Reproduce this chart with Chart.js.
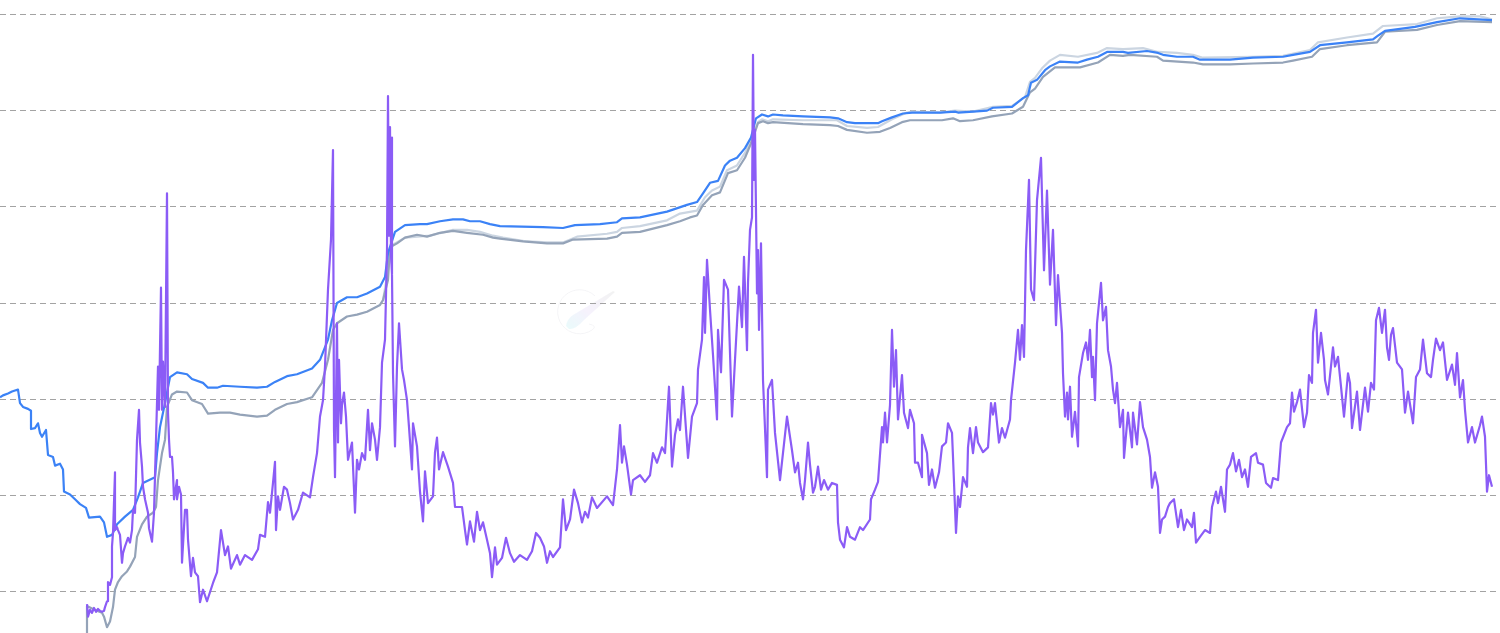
<!DOCTYPE html>
<html>
<head>
<meta charset="utf-8">
<title>Chart</title>
<script src="https://cdn.jsdelivr.net/npm/chart.js@4"></script>
<style>
    html, body { margin: 0; padding: 0; background: #fff; overflow: hidden; }
    #wrap { position: relative; width: 1500px; height: 633px; }
    #logo { position: absolute; left: 555px; top: 286px; opacity: 0.55; }
    #myChart { position: absolute; left: 0; top: 0; }
</style>
</head>
<body>
<div id="wrap">
    <svg id="logo" width="64" height="56" viewBox="0 0 64 56">
        <defs>
            <linearGradient id="tail" x1="0" y1="1" x2="1" y2="0">
                <stop offset="0" stop-color="#d8f8f8"/>
                <stop offset="0.45" stop-color="#efe8fb"/>
                <stop offset="1" stop-color="#e8e8e8"/>
            </linearGradient>
        </defs>
        <path d="M40 10 A22 22 0 1 0 37 44 Q43 40 34 38" fill="none" stroke="#ececf0" stroke-width="1"/>
        <path d="M11 40 Q12 33 18 29 L58 5 L60 6 L29 34 Q20 44 14 43 Z" fill="url(#tail)"/>
    </svg>
    <canvas id="myChart" width="1500" height="633"></canvas>
</div>
<script>
// periods are sample numbers along the x axis, values are in grid steps above the lowest gridline
const purplePeriods = [
    87, 88, 90, 92, 94, 96, 98, 100, 102, 104,
    105, 107, 108, 110, 112, 112, 113, 115, 115, 117,
    118, 120, 122, 123, 125, 128, 130, 132, 133, 135,
    137, 139, 140, 142, 143, 145, 148, 149, 152, 154,
    156, 158, 159, 161, 162, 163, 165, 167, 168, 169,
    170, 172, 173, 174, 177, 177, 179, 181, 182, 185,
    187, 188, 191, 193, 195, 198, 200, 203, 207, 213,
    217, 221, 225, 228, 231, 237, 240, 245, 252, 258,
    260, 265, 268, 270, 273, 275, 276, 278, 280, 284,
    287, 290, 293, 298, 303, 310, 313, 317, 320, 323,
    325, 328, 331, 333, 334, 335, 337, 338, 339, 341,
    342, 344, 346, 348, 352, 355, 357, 359, 362, 365,
    368, 370, 372, 375, 377, 380, 382, 385, 387, 388,
    389, 390, 391, 392, 392, 393, 395, 397, 399, 402, 404, 407,
    409, 412, 413, 417, 420, 423, 425, 428, 433, 435,
    437, 439, 443, 448, 453, 455, 462, 465, 467, 470,
    474, 477, 480, 483, 487, 490, 492, 495, 497, 502,
    506, 510, 514, 520, 527, 532, 536, 540, 544, 547,
    550, 553, 560, 563, 566, 570, 574, 578, 582, 585,
    588, 592, 597, 607, 613, 617, 620, 622, 624, 627,
    631, 633, 640, 645, 650, 653, 657, 662, 665, 669,
    672, 675, 678, 680, 683, 688, 692, 697, 698, 702,
    704, 705, 707, 710, 713, 717, 718, 721, 724, 728,
    732, 735, 739, 742, 744, 747, 748, 750, 752, 753,
    754, 755, 757, 758, 759, 761, 763, 767, 768, 772,
    775, 780, 787, 792, 795, 798, 800, 803, 805, 808,
    810, 813, 815, 818, 821, 824, 828, 832, 837, 838,
    840, 844, 847, 850, 855, 860, 863, 870, 871, 875,
    878, 882, 883, 885, 887, 890, 892, 894, 896, 898,
    902, 904, 908, 910, 914, 915, 918, 922, 922, 927,
    929, 932, 935, 939, 942, 946, 948, 952, 953, 956,
    958, 960, 963, 967, 968, 970, 973, 976, 978, 983,
    988, 991, 993, 995, 999, 1002, 1005, 1010, 1011, 1015,
    1018, 1020, 1022, 1024, 1026, 1029, 1031, 1034, 1037, 1041,
    1044, 1047, 1050, 1053, 1056, 1058, 1062, 1063, 1065, 1067,
    1068, 1070, 1072, 1075, 1078, 1079, 1083, 1086, 1088, 1090,
    1092, 1093, 1095, 1097, 1101, 1103, 1106, 1108, 1111, 1113,
    1115, 1117, 1120, 1123, 1124, 1128, 1132, 1133, 1137, 1140,
    1143, 1147, 1150, 1152, 1155, 1158, 1160, 1162, 1165, 1168,
    1170, 1174, 1178, 1181, 1184, 1187, 1192, 1194, 1196, 1200,
    1205, 1210, 1212, 1216, 1218, 1221, 1225, 1227, 1230, 1233,
    1236, 1239, 1242, 1245, 1248, 1251, 1256, 1258, 1263, 1266,
    1271, 1273, 1278, 1281, 1287, 1290, 1292, 1294, 1297, 1300,
    1304, 1307, 1309, 1312, 1313, 1316, 1318, 1321, 1324, 1325,
    1328, 1333, 1335, 1338, 1341, 1344, 1348, 1350, 1352, 1357,
    1360, 1365, 1368, 1371, 1374, 1376, 1379, 1382, 1385, 1387,
    1389, 1391, 1393, 1397, 1402, 1405, 1408, 1413, 1416, 1420,
    1423, 1427, 1431, 1433, 1436, 1440, 1443, 1447, 1452, 1455,
    1457, 1460, 1463, 1465, 1468, 1472, 1475, 1480, 1482, 1485,
    1487, 1489, 1492
];
const purpleValues = [
    -0.13, -0.26, -0.19, -0.22, -0.17, -0.21, -0.18, -0.20, -0.21, -0.20,
    -0.16, -0.10, 0.10, 0.07, 0.15, 0.47, 0.61, 1.24, 0.64, 0.67,
    0.64, 0.59, 0.30, 0.40, 0.47, 0.56, 0.51, 0.64, 0.85, 0.82,
    1.58, 1.89, 1.55, 1.30, 1.09, 0.96, 0.82, 0.66, 0.52, 0.82,
    1.58, 2.34, 1.89, 3.16, 1.89, 2.39, 1.92, 4.14, 1.86, 1.58,
    1.40, 1.40, 1.24, 0.96, 1.16, 0.96, 1.09, 1.01, 0.30, 0.85,
    0.85, 0.54, 0.16, 0.35, 0.20, 0.16, -0.11, 0.02, -0.10, 0.09,
    0.20, 0.64, 0.38, 0.47, 0.24, 0.38, 0.28, 0.38, 0.33, 0.44,
    0.59, 0.57, 0.93, 0.82, 1.13, 1.35, 0.64, 0.99, 0.85, 1.09,
    1.06, 0.92, 0.75, 0.85, 1.03, 0.98, 1.19, 1.44, 1.82, 1.99,
    2.34, 3.14, 3.66, 4.59, 1.68, 1.19, 2.79, 1.55, 2.41, 1.75,
    1.94, 2.07, 1.82, 1.37, 1.55, 0.82, 1.37, 1.27, 1.44, 1.37,
    1.89, 1.47, 1.75, 1.58, 1.37, 1.71, 2.38, 2.62, 3.55, 5.15,
    3.70, 4.83, 3.50, 4.72, 3.30, 2.27, 1.51, 2.34, 2.79, 2.31, 2.20, 1.99,
    1.71, 1.27, 1.75, 1.51, 1.04, 0.73, 1.25, 0.92, 0.99, 1.45,
    1.60, 1.27, 1.45, 1.30, 1.13, 0.88, 0.88, 0.64, 0.49, 0.73,
    0.52, 0.83, 0.64, 0.72, 0.54, 0.40, 0.15, 0.46, 0.28, 0.35,
    0.56, 0.40, 0.31, 0.38, 0.33, 0.42, 0.61, 0.56, 0.47, 0.30,
    0.42, 0.36, 0.46, 0.96, 0.64, 0.75, 1.06, 0.92, 0.72, 0.83,
    0.77, 0.98, 0.87, 0.99, 0.90, 1.27, 1.73, 1.34, 1.51, 1.32,
    1.01, 1.16, 1.21, 1.14, 1.21, 1.44, 1.34, 1.50, 1.44, 2.13,
    1.30, 1.63, 1.79, 1.68, 2.13, 1.39, 1.82, 1.96, 2.31, 2.62,
    3.27, 2.69, 3.45, 2.93, 2.46, 1.79, 2.72, 2.28, 3.24, 3.14,
    1.82, 2.41, 3.17, 2.75, 3.48, 2.51, 3.21, 3.76, 3.89, 5.58,
    4.28, 4.80, 3.10, 3.55, 2.72, 3.62, 2.20, 1.19, 2.10, 2.20,
    1.65, 1.16, 1.82, 1.47, 1.24, 1.34, 1.13, 0.96, 1.16, 1.55,
    1.32, 1.03, 1.09, 1.30, 1.06, 1.16, 1.06, 1.13, 1.11, 0.72,
    0.54, 0.46, 0.67, 0.57, 0.54, 0.67, 0.64, 0.75, 0.96, 1.06,
    1.14, 1.71, 1.55, 1.86, 1.55, 1.94, 2.72, 2.13, 2.51, 1.79,
    2.25, 1.86, 1.70, 1.89, 1.75, 1.34, 1.34, 1.19, 1.63, 1.44,
    1.11, 1.27, 1.08, 1.24, 1.51, 1.55, 1.75, 1.65, 1.40, 0.61,
    0.99, 0.88, 1.19, 1.09, 1.50, 1.70, 1.44, 1.71, 1.55, 1.45,
    1.50, 1.96, 1.84, 1.96, 1.55, 1.70, 1.60, 1.79, 1.99, 2.38,
    2.72, 2.41, 2.77, 2.44, 3.55, 4.28, 3.14, 3.03, 4.07, 4.51,
    3.34, 4.17, 3.19, 3.76, 2.77, 3.29, 2.69, 2.27, 1.82, 2.07,
    1.79, 2.13, 1.61, 1.87, 1.51, 2.23, 2.48, 2.59, 2.41, 2.72,
    2.23, 2.44, 1.99, 2.79, 3.21, 2.82, 2.96, 2.51, 2.34, 2.10,
    1.96, 2.17, 1.71, 1.89, 1.39, 1.86, 1.50, 1.86, 1.53, 1.97,
    1.71, 1.58, 1.40, 1.08, 1.24, 1.09, 0.61, 0.75, 0.78, 0.88,
    0.92, 0.96, 0.67, 0.85, 0.64, 0.75, 0.67, 0.82, 0.51, 0.57,
    0.64, 0.61, 0.88, 1.04, 0.92, 1.09, 0.83, 1.27, 1.32, 1.44,
    1.25, 1.37, 1.19, 1.27, 1.09, 1.40, 1.44, 1.34, 1.32, 1.13,
    1.08, 1.18, 1.16, 1.55, 1.71, 1.75, 2.07, 1.87, 1.97, 2.10,
    1.71, 1.86, 2.25, 2.17, 2.69, 2.93, 2.38, 2.69, 2.41, 2.20,
    2.05, 2.54, 2.34, 2.44, 2.13, 1.82, 2.27, 2.17, 1.70, 2.08,
    1.68, 2.12, 1.87, 2.17, 2.10, 2.82, 2.95, 2.69, 2.93, 2.54,
    2.41, 2.67, 2.74, 2.38, 2.31, 1.86, 2.08, 1.75, 2.23, 2.31,
    2.62, 2.27, 2.23, 2.41, 2.63, 2.51, 2.59, 2.20, 2.36, 2.15,
    2.48, 2.02, 2.20, 1.89, 1.55, 1.71, 1.55, 1.73, 1.82, 1.61,
    1.04, 1.21, 1.09
];

const bluePeriods = [
    0, 3, 8, 12, 15, 18, 20, 23, 28, 31, 31, 35, 38, 40, 42, 46, 48, 53, 55, 60,
    63, 64, 70, 75, 80, 86, 89, 100, 104, 107, 112, 117, 125, 133, 138, 143, 155, 157, 160, 165,
    170, 177, 187, 192, 203, 208, 217, 223, 240, 257, 267, 275, 287, 297, 312, 320, 328, 332, 337, 347,
    357, 367, 380, 385, 388, 395, 405, 420, 427, 440, 453, 463, 470, 480, 490, 500, 543, 563, 575, 600,
    617, 622, 640, 667, 687, 697, 703, 710, 718, 725, 730, 737, 745, 751, 756, 762, 768, 773, 783, 803,
    830, 838, 847, 855, 878, 882, 892, 903, 912, 940, 955, 958, 973, 987, 993, 1012, 1023, 1028, 1031, 1037,
    1045, 1050, 1060, 1078, 1087, 1098, 1107, 1123, 1128, 1147, 1158, 1163, 1177, 1193, 1200, 1230, 1253, 1283, 1293, 1310,
    1320, 1347, 1373, 1378, 1385, 1415, 1437, 1460, 1492
];
const blueValues = [
    2.02, 2.04, 2.06, 2.08, 2.09, 2.10, 1.96, 1.92, 1.90, 1.88, 1.69, 1.70, 1.75, 1.65, 1.61, 1.68, 1.42, 1.40, 1.31, 1.33,
    1.27, 1.04, 1.01, 0.96, 0.91, 0.87, 0.77, 0.78, 0.72, 0.57, 0.59, 0.70, 0.78, 0.85, 0.98, 1.13, 1.19, 1.44, 1.71, 1.96,
    2.23, 2.28, 2.26, 2.21, 2.17, 2.12, 2.12, 2.14, 2.13, 2.12, 2.13, 2.18, 2.24, 2.26, 2.32, 2.41, 2.62, 2.82, 3.00, 3.06,
    3.06, 3.10, 3.17, 3.27, 3.52, 3.74, 3.81, 3.82, 3.82, 3.85, 3.87, 3.87, 3.85, 3.85, 3.82, 3.80, 3.79, 3.78, 3.81, 3.82,
    3.84, 3.88, 3.89, 3.95, 4.02, 4.05, 4.14, 4.25, 4.27, 4.43, 4.48, 4.51, 4.61, 4.72, 4.92, 4.96, 4.94, 4.96, 4.95, 4.94,
    4.93, 4.92, 4.88, 4.87, 4.87, 4.89, 4.93, 4.97, 4.98, 4.98, 4.99, 4.98, 4.99, 5.00, 5.03, 5.04, 5.13, 5.16, 5.29, 5.32,
    5.42, 5.46, 5.51, 5.50, 5.53, 5.56, 5.61, 5.61, 5.60, 5.62, 5.60, 5.58, 5.56, 5.56, 5.53, 5.53, 5.55, 5.56, 5.58, 5.61,
    5.68, 5.71, 5.74, 5.78, 5.83, 5.87, 5.92, 5.96, 5.94
];

const slatePeriods = [
    87, 87, 95, 102, 104, 107, 110, 113, 115, 118, 122, 127, 130, 135, 137, 142, 147, 153, 156, 158,
    162, 165, 167, 172, 177, 187, 192, 202, 208, 220, 230, 240, 257, 267, 275, 287, 297, 312, 322, 328,
    333, 337, 347, 357, 367, 380, 383, 388, 390, 397, 405, 417, 427, 440, 453, 467, 483, 493, 500, 523,
    547, 563, 573, 607, 617, 622, 640, 667, 680, 690, 697, 703, 712, 720, 728, 737, 745, 751, 758, 763,
    768, 773, 803, 830, 838, 847, 867, 880, 890, 902, 910, 942, 953, 960, 973, 992, 1012, 1023, 1030, 1035,
    1043, 1055, 1080, 1098, 1110, 1123, 1130, 1157, 1163, 1193, 1203, 1230, 1253, 1283, 1293, 1312, 1320, 1347, 1377, 1385,
    1417, 1437, 1460, 1492
];
const slateValues = [
    -0.43, -0.15, -0.19, -0.22, -0.26, -0.37, -0.31, -0.16, 0.02, 0.10, 0.16, 0.21, 0.26, 0.36, 0.57, 0.70, 0.78, 0.82, 0.88, 1.16,
    1.44, 1.58, 1.92, 2.05, 2.08, 2.07, 1.99, 1.95, 1.85, 1.86, 1.86, 1.84, 1.82, 1.83, 1.89, 1.95, 1.97, 2.02, 2.17, 2.41,
    2.72, 2.79, 2.86, 2.88, 2.91, 2.98, 3.03, 3.24, 3.58, 3.62, 3.68, 3.71, 3.69, 3.73, 3.75, 3.73, 3.71, 3.68, 3.67, 3.64,
    3.62, 3.62, 3.66, 3.67, 3.69, 3.73, 3.74, 3.81, 3.85, 3.89, 3.91, 4.02, 4.12, 4.15, 4.35, 4.38, 4.51, 4.66, 4.87, 4.89,
    4.87, 4.88, 4.86, 4.85, 4.84, 4.80, 4.77, 4.78, 4.82, 4.88, 4.90, 4.90, 4.92, 4.89, 4.90, 4.94, 4.97, 5.04, 5.19, 5.23,
    5.35, 5.45, 5.45, 5.50, 5.58, 5.57, 5.58, 5.56, 5.52, 5.50, 5.48, 5.48, 5.49, 5.50, 5.52, 5.56, 5.64, 5.68, 5.71, 5.82,
    5.84, 5.89, 5.93, 5.92
];

const lightPeriods = [
    383, 388, 392, 405, 430, 453, 467, 480, 493, 503, 527, 547, 563, 577, 607, 617, 622, 640, 667, 680,
    697, 705, 712, 720, 727, 737, 745, 751, 758, 762, 768, 773, 803, 837, 847, 867, 878, 892, 907, 912,
    940, 955, 973, 993, 1012, 1025, 1030, 1035, 1042, 1050, 1060, 1078, 1097, 1107, 1123, 1143, 1158, 1177, 1193, 1203,
    1253, 1283, 1310, 1318, 1347, 1373, 1383, 1417, 1437, 1460, 1480, 1492
];
const lightValues = [
    3.03, 3.34, 3.60, 3.68, 3.70, 3.76, 3.76, 3.74, 3.70, 3.68, 3.64, 3.63, 3.63, 3.69, 3.72, 3.74, 3.78, 3.80, 3.86, 3.93,
    3.96, 4.10, 4.17, 4.21, 4.38, 4.43, 4.56, 4.69, 4.88, 4.91, 4.89, 4.91, 4.90, 4.90, 4.84, 4.82, 4.83, 4.91, 4.98, 4.99,
    4.98, 5.00, 4.99, 5.04, 5.05, 5.14, 5.30, 5.34, 5.44, 5.52, 5.58, 5.56, 5.60, 5.65, 5.64, 5.65, 5.61, 5.60, 5.58, 5.55,
    5.56, 5.57, 5.63, 5.71, 5.76, 5.80, 5.88, 5.90, 5.96, 5.98, 5.98, 5.95
];

document.addEventListener('DOMContentLoaded', function() {
    const ctx = document.getElementById('myChart').getContext('2d');

    function toPoints(periods, values) {
        return periods.map((p, i) => ({ x: p, y: values[i] }));
    }

    function lineDataset(periods, values, color, width, order) {
        return {
            data: toPoints(periods, values),
            borderColor: color,
            borderWidth: width,
            borderJoinStyle: 'round',
            pointRadius: 0,
            tension: 0,
            fill: false,
            order: order
        };
    }

    new Chart(ctx, {
        type: 'line',
        data: {
            datasets: [
                lineDataset(purplePeriods, purpleValues, '#8b5cf6', 2.2, 1),
                lineDataset(bluePeriods, blueValues, '#3b82f6', 2.2, 2),
                lineDataset(slatePeriods, slateValues, '#94a3b8', 2.2, 3),
                lineDataset(lightPeriods, lightValues, '#cbd5e1', 2.2, 4)
            ]
        },
        options: {
            responsive: false,
            animation: false,
            devicePixelRatio: 1,
            layout: { padding: 0 },
            plugins: {
                legend: { display: false },
                tooltip: { enabled: false }
            },
            scales: {
                x: { type: 'linear', min: 0, max: 1500, display: false },
                y: {
                    min: -0.43,
                    max: 6.15,
                    afterBuildTicks: function(axis) {
                        axis.ticks = axis.ticks.filter(t => Number.isInteger(t.value));
                    },
                    ticks: { display: false, stepSize: 1 },
                    border: { display: false, dash: [6, 4] },
                    grid: { color: '#a3a3a3', lineWidth: 1, drawTicks: false }
                }
            }
        }
    });
});
</script>
</body>
</html>
